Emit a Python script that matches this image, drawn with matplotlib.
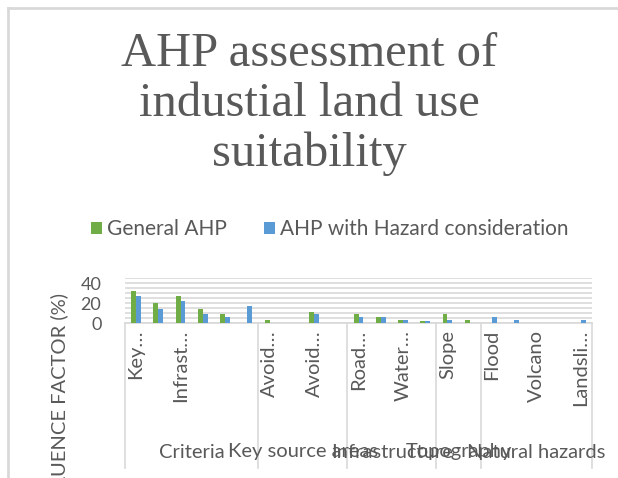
import matplotlib.pyplot as plt
import matplotlib.transforms as mtransforms
import numpy as np

# chart data
tick_labels = ["Key…", "", "Infrast…", "", "", "",
               "Avoid…", "", "Avoid…", "",
               "Road…", "", "Water…", "",
               "Slope", "",
               "Flood", "", "Volcano", "", "Landsli…"]
general_ahp = [32, 20, 27, 14, 9, 0,
               3, 0.3, 11, 0.3,
               9, 6, 3, 2.5,
               9, 3,
               0, 0, 0.3, 0.3, 0]
hazard_ahp = [27, 14, 22, 9, 6, 17,
              0.3, 0.3, 9, 0.3,
              6, 6, 3, 2.5,
              3, 0,
              6, 3, 0.3, 0.3, 3]
group_names = ["Criteria", "Key source areas", "Infrastructure", "Topography", "Natural hazards"]
group_sizes = [6, 4, 4, 2, 5]

green = "#70AD47"
blue = "#5B9BD5"
text_col = "#595959"
line_col = "#D9D9D9"
body_font = ["Lato", "DejaVu Sans"]

W, H = 618, 478
fig = plt.figure(figsize=(W / 100, H / 100), dpi=100)

# axes placed in pixel terms
left, right, bottom, top = 125, 592, 323, 278
ax = fig.add_axes([left / W, 1 - bottom / H, (right - left) / W, (bottom - top) / H])

x = np.arange(len(tick_labels))
bw = 0.22
ax.bar(x - bw / 2, general_ahp, bw, color=green, label="General AHP", zorder=3)
ax.bar(x + bw / 2, hazard_ahp, bw, color=blue, label="AHP with Hazard consideration", zorder=3)

ax.set_xlim(-0.5, len(x) - 0.5)
ax.set_ylim(0, 45)
ax.set_yticks([0, 20, 40])
ax.set_yticks(np.arange(5, 46, 5), minor=True)
ax.yaxis.grid(True, which="both", color=line_col, linewidth=1.2, zorder=0)
ax.tick_params(axis="y", which="both", length=0, pad=17, labelsize=13, labelcolor=text_col)
for lbl in ax.get_yticklabels():
    lbl.set_family(body_font)

ax.set_xticks(x)
ax.set_xticklabels(tick_labels, rotation=90, fontsize=14.5, color=text_col, family=body_font, va="top")
ax.tick_params(axis="x", length=0, pad=5)

for s in ["top", "right", "left"]:
    ax.spines[s].set_visible(False)
ax.spines["bottom"].set_color(line_col)
ax.spines["bottom"].set_linewidth(1.2)

# multi-level category separators and group labels
trans = mtransforms.blended_transform_factory(ax.transData, fig.transFigure)
edges = np.concatenate([[0], np.cumsum(group_sizes)]) - 0.5
for e in edges:
    ax.plot([e, e], [1 - bottom / H, 1 - 468 / H], color=line_col, lw=1.2,
            transform=trans, clip_on=False)
for i, name in enumerate(group_names):
    c = (edges[i] + edges[i + 1]) / 2
    ax.text(c, 1 - 452 / H, name, transform=trans, ha="center", va="center",
            fontsize=14.5, color=text_col, family=body_font)

# y axis title, partly cut off by the figure edge as in the reference
fig.text(59 / W, 1 - 293 / H, "INFLUENCE FACTOR (%)", rotation=90, ha="center", va="top",
         fontsize=14.5, color=text_col, family=body_font)

# title
fig.text(309 / W, 1 - 104 / H, "AHP assessment of\nindustial land use\nsuitability",
         ha="center", va="center", fontsize=35, color=text_col,
         family=["Liberation Serif", "DejaVu Serif"], linespacing=1.18)

# legend
leg = fig.legend(loc="center", bbox_to_anchor=(330 / W, 1 - 229 / H), ncol=2, frameon=False,
                 handlelength=0.5, handleheight=0.5, handletextpad=0.25, columnspacing=1.8,
                 borderpad=0, prop={"family": body_font, "size": 15})
for t in leg.get_texts():
    t.set_color(text_col)

# chart border (left and top visible)
fig.add_artist(plt.Line2D([8 / W, 8 / W], [0, 1 - 8 / H], color=line_col, lw=2))
fig.add_artist(plt.Line2D([8 / W, 1], [1 - 8 / H, 1 - 8 / H], color=line_col, lw=2))

fig.savefig("out.png", dpi=100)
